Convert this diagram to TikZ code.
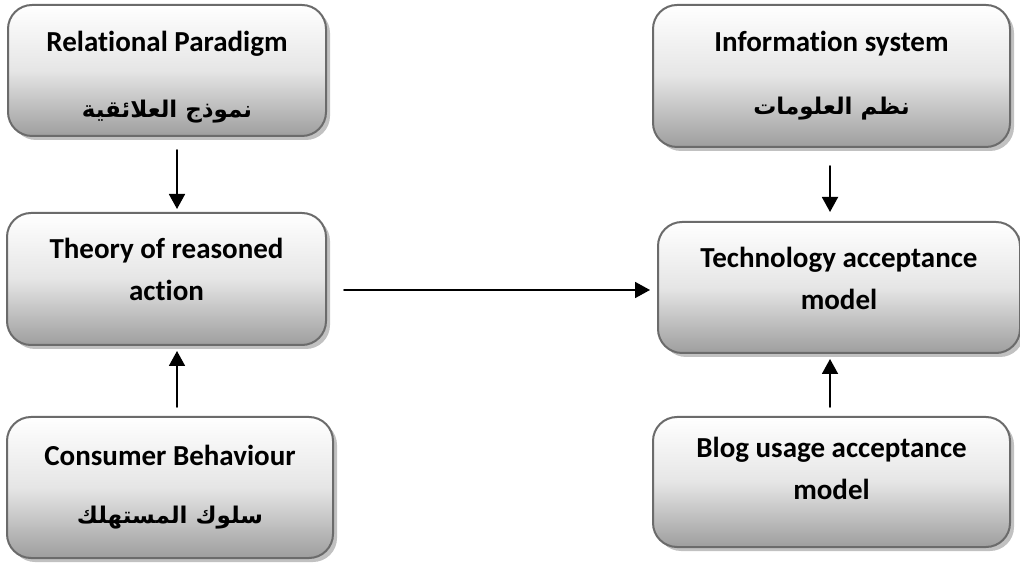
\documentclass[tikz,border=0pt]{standalone}
\usepackage{fontspec}
\setmainfont{Carlito}[Ligatures=NoCommon]
\newfontfamily\arabicfont[Script=Arabic]{DejaVu Sans}
\TeXXeTstate=1
\usetikzlibrary{arrows.meta,shadows}
\newcommand\artext[1]{{\arabicfont\fontsize{11.5}{14}\selectfont\beginR #1\endR}}
\begin{document}
\begin{tikzpicture}[x=0.5pt,y=-0.5pt,line cap=round,line join=round,
  box/.style={draw=black!58,line width=1pt,rounded corners=12pt,top color=white,bottom color=black!38,middle color=black!10,
    drop shadow={shadow xshift=2pt,shadow yshift=-2pt,opacity=0.35,fill=black!70},
    align=center,font=\fontsize{14.5}{21}\selectfont\bfseries,inner sep=0pt},
  arr/.style={-{Triangle[length=7.5pt,width=8pt]},line width=0.9pt}]
  \useasboundingbox (0,0) rectangle (1020,565);
  % left column
  \node[box,minimum width=159pt,minimum height=65.5pt] (rp) at (167,70.5) {\rule{0pt}{13.5pt}\raisebox{-3pt}{Relational Paradigm}\\[15pt]\artext{نموذج العلائقية}};
  \node[box,minimum width=159.5pt,minimum height=66pt] (tra) at (166.5,279) {Theory of reasoned\\action\rule[-10pt]{0pt}{10pt}};
  \node[box,minimum width=163pt,minimum height=70.5pt] (cb) at (170,487.5) {\raisebox{-3pt}{Consumer Behaviour}\\[11pt]\artext{سلوك المستهلك}};
  % right column
  \node[box,minimum width=178.5pt,minimum height=71pt] (is) at (831.5,76) {\raisebox{-3pt}{Information system}\\[13.5pt]\artext{نظم العلومات}};
  \node[box,minimum width=181pt,minimum height=65.5pt] (tam) at (839,287.5) {Technology acceptance\\model\rule[-9pt]{0pt}{9pt}};
  \node[box,minimum width=178.5pt,minimum height=65pt] (bu) at (831.5,482) {Blog usage acceptance\\model\rule[-13.5pt]{0pt}{13.5pt}};
  % arrows
  \draw[arr]([xshift=5pt,yshift=-6.5pt]rp.south)--([xshift=5.25pt,yshift=1.5pt]tra.north);
  \draw[arr]([xshift=3.5pt,yshift=4.5pt]cb.north)--([xshift=5.25pt,yshift=-2.5pt]tra.south);
  \draw[arr]([xshift=8.5pt,yshift=-5.5pt]tra.east)--([xshift=-3.5pt,yshift=-1.25pt]tam.west);
  \draw[arr]([xshift=-0.75pt,yshift=-9pt]is.south)--([xshift=-4.5pt,yshift=4.5pt]tam.north);
  \draw[arr]([xshift=-0.75pt,yshift=4.5pt]bu.north)--([xshift=-4.5pt,yshift=-2.5pt]tam.south);
\end{tikzpicture}
\end{document}
